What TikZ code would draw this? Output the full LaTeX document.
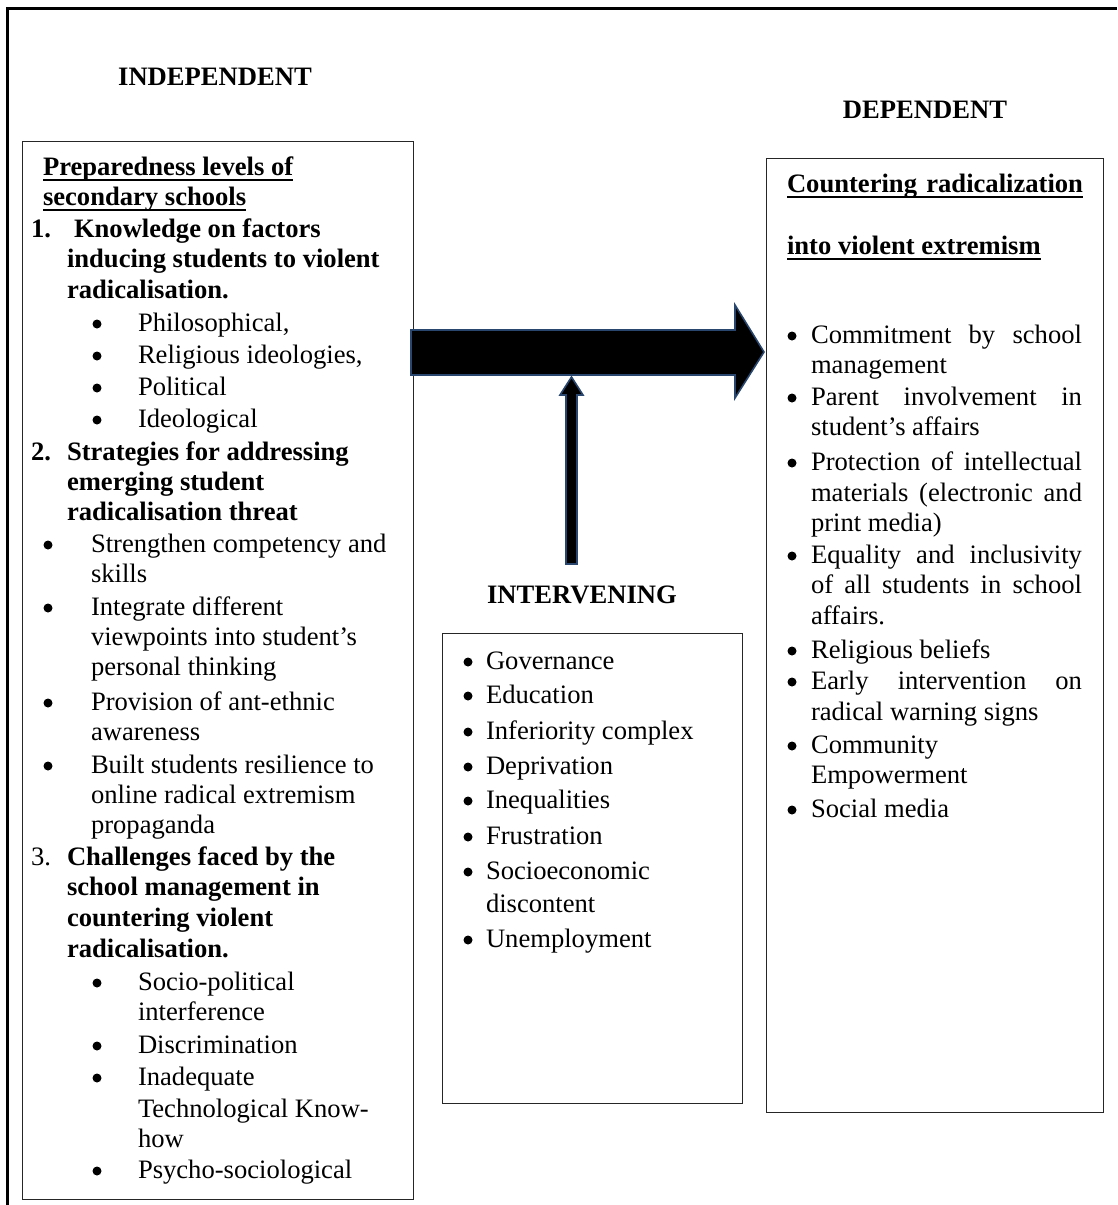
\documentclass[tikz,border=0pt]{standalone}
\usepackage{fontspec}
\setmainfont{Liberation Serif}
\definecolor{arrowblue}{RGB}{40,70,110}
\tikzset{
  txt/.style={inner sep=0pt, outer sep=0pt, font=\fontsize{26.6}{30.5}\selectfont},
  btxt/.style={inner sep=0pt, outer sep=0pt, font=\fontsize{26.6}{30.5}\selectfont\bfseries},
  dot/.style={circle, fill=black, inner sep=0pt, minimum size=9pt},
  boxframe/.style={draw=black!85, line width=1.3pt, inner sep=0pt, anchor=north west},
  bigarrow/.style={fill=black, draw=arrowblue, line width=1.6pt, line join=miter},
  uline/.style={line width=1.8pt},
  outerframe/.style={line width=2.5pt}
}
\newcommand\bitem[5]{%
  \node[dot] (#1b) at (#2,#4-7) {};
  \node[txt,anchor=base west] (#1) at (#3,#4) {#5};}
\newcommand\jw[1]{\makebox[271pt][s]{#1}}
\begin{document}
\begin{tikzpicture}[x=1pt,y=-1pt]
\useasboundingbox (0,0) rectangle (1117,1205);
% outer frame (cut by the page on right and bottom)
\draw[outerframe] (7.5,1205) -- (7.5,8.5) -- (1117,8.5);

% boxes
\node[boxframe, minimum width=391pt, minimum height=1058pt] (indep) at (22,141) {};
\node[boxframe, minimum width=300pt, minimum height=470pt] (interv) at (442,633) {};
\node[boxframe, minimum width=337pt, minimum height=954pt] (dep) at (766,158) {};

% headings
\node[btxt,anchor=base] (hind) at (215,85) {INDEPENDENT};
\node[btxt,anchor=base] (hdep) at (925,118) {DEPENDENT};
\node[btxt,anchor=base] (hint) at (582,603) {INTERVENING};

% arrows
\draw[bigarrow] (411,330) -- (735,330) -- (735,305) -- (764,352) -- (735,398) -- (735,375) -- (411,375) -- cycle;
\draw[bigarrow] (566,564) -- (566,395) -- (560,395) -- (571.5,377) -- (583,395) -- (577,395) -- (577,564) -- cycle;

% ---------- left box text ----------
\node[btxt,anchor=base west] (p1) at (43,175) {Preparedness levels of};
\node[btxt,anchor=base west] (p2) at (43,205) {secondary schools};
\draw[uline] ([yshift=-5pt]p1.base west) -- ([yshift=-5pt]p1.base east);
\draw[uline] ([yshift=-5pt]p2.base west) -- ([yshift=-5pt]p2.base east);
\node[btxt,anchor=base west] (n1) at (31,237) {1.};
\node[btxt,anchor=base west] (k1) at (74,237) {Knowledge on factors};
\node[btxt,anchor=base west] (k2) at (67,267.5) {inducing students to violent};
\node[btxt,anchor=base west] (k3) at (67,298) {radicalisation.};
\bitem{f1}{97}{138}{331}{Philosophical,}
\bitem{f2}{97}{138}{363}{Religious ideologies,}
\bitem{f3}{97}{138}{395}{Political}
\bitem{f4}{97}{138}{427}{Ideological}
\node[btxt,anchor=base west] (n2) at (31,460) {2.};
\node[btxt,anchor=base west] (s1) at (67,460) {Strategies for addressing};
\node[btxt,anchor=base west] (s2) at (67,490) {emerging student};
\node[btxt,anchor=base west] (s3) at (67,520) {radicalisation threat};
\bitem{g1}{48}{91}{552}{Strengthen competency and}
\node[txt,anchor=base west] (g1x) at (91,582) {skills};
\bitem{g2}{48}{91}{615}{Integrate different}
\node[txt,anchor=base west] (g2x) at (91,645) {viewpoints into student’s};
\node[txt,anchor=base west] (g2y) at (91,675) {personal thinking};
\bitem{g3}{48}{91}{710}{Provision of ant-ethnic}
\node[txt,anchor=base west] (g3x) at (91,740) {awareness};
\bitem{g4}{48}{91}{773}{Built students resilience to}
\node[txt,anchor=base west] (g4x) at (91,803) {online radical extremism};
\node[txt,anchor=base west] (g4y) at (91,833) {propaganda};
\node[txt,anchor=base west] (n3) at (31,865) {3.};
\node[btxt,anchor=base west] (c1) at (67,865) {Challenges faced by the};
\node[btxt,anchor=base west] (c2) at (67,895) {school management in};
\node[btxt,anchor=base west] (c3) at (67,926) {countering violent};
\node[btxt,anchor=base west] (c4) at (67,957) {radicalisation.};
\bitem{d1}{97}{138}{990}{Socio-political}
\node[txt,anchor=base west] (d1x) at (138,1020) {interference};
\bitem{d2}{97}{138}{1053}{Discrimination}
\bitem{d3}{97}{138}{1085}{Inadequate}
\node[txt,anchor=base west] (d3x) at (138,1117) {Technological Know-};
\node[txt,anchor=base west] (d3y) at (138,1147) {how};
\bitem{d4}{97}{138}{1178}{Psycho-sociological}

% ---------- middle box text ----------
\bitem{m1}{468}{486}{669}{Governance}
\bitem{m2}{468}{486}{703}{Education}
\bitem{m3}{468}{486}{739}{Inferiority complex}
\bitem{m4}{468}{486}{774}{Deprivation}
\bitem{m5}{468}{486}{808}{Inequalities}
\bitem{m6}{468}{486}{844}{Frustration}
\bitem{m7}{468}{486}{879}{Socioeconomic}
\node[txt,anchor=base west] (m7x) at (486,912) {discontent};
\bitem{m8}{468}{486}{947}{Unemployment}

% ---------- right box text ----------
\node[btxt,anchor=base west] (r1) at (787,192) {\makebox[296pt][s]{Countering radicalization}};
\node[btxt,anchor=base west] (r2) at (787,254) {into violent extremism};
\draw[uline] ([yshift=-5pt]r1.base west) -- ([yshift=-5pt]r1.base east);
\draw[uline] ([yshift=-5pt]r2.base west) -- ([yshift=-5pt]r2.base east);
\bitem{e1}{792}{811}{343}{\jw{Commitment by school}}
\node[txt,anchor=base west] (e1x) at (811,373) {management};
\bitem{e2}{792}{811}{405}{\jw{Parent involvement in}}
\node[txt,anchor=base west] (e2x) at (811,435) {student’s affairs};
\bitem{e3}{792}{811}{470}{\jw{Protection of intellectual}}
\node[txt,anchor=base west] (e3x) at (811,501) {\jw{materials (electronic and}};
\node[txt,anchor=base west] (e3y) at (811,531) {print media)};
\bitem{e4}{792}{811}{563}{\jw{Equality and inclusivity}}
\node[txt,anchor=base west] (e4x) at (811,593) {\jw{of all students in school}};
\node[txt,anchor=base west] (e4y) at (811,624) {affairs.};
\bitem{e5}{792}{811}{658}{Religious beliefs}
\bitem{e6}{792}{811}{689}{\jw{Early intervention on}}
\node[txt,anchor=base west] (e6x) at (811,720) {radical warning signs};
\bitem{e7}{792}{811}{753}{Community}
\node[txt,anchor=base west] (e7x) at (811,783) {Empowerment};
\bitem{e8}{792}{811}{817}{Social media}
\end{tikzpicture}
\end{document}
